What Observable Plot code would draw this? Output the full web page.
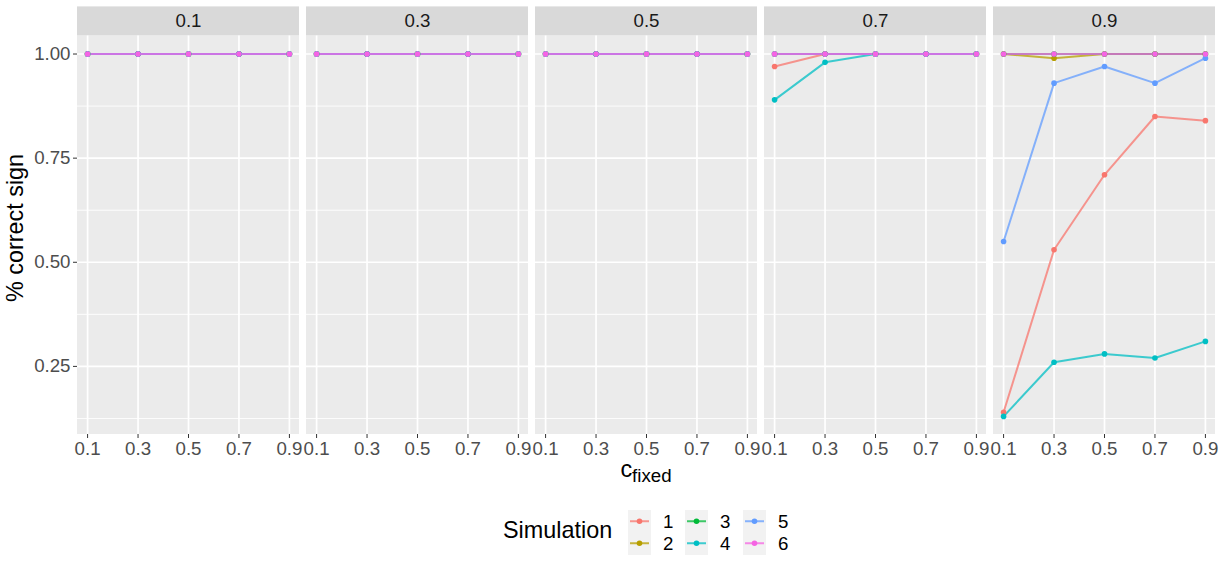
<!DOCTYPE html>
<html>
<head>
<meta charset="utf-8">
<script src="https://cdn.jsdelivr.net/npm/d3@7"></script>
<script src="https://cdn.jsdelivr.net/npm/@observablehq/plot@0.6"></script>
<style>
  body { margin: 0; background: #fff; font-family: "Liberation Sans", Arial, Helvetica, sans-serif; }
  #wrap { position: relative; width: 1221px; height: 561px; overflow: hidden; }
  .lg-title { position: absolute; left: 503px; top: 519px; font-size: 23.4px; color: #000; line-height: 1; }
  .lg-key { position: absolute; width: 23px; height: 22.5px; background: #F2F2F2; }
  .lg-lab { position: absolute; font-size: 18.7px; color: #000; line-height: 1; }
</style>
</head>
<body>
<div id="wrap"></div>
<script>
// ---- data ----
const panels = [0.1, 0.3, 0.5, 0.7, 0.9];          // facet values
const cFixed = [0.1, 0.3, 0.5, 0.7, 0.9];          // x values / tick labels
const sims = ["1", "2", "3", "4", "5", "6"];
const simColors = ["#F8766D", "#B79F00", "#00BA38", "#00BFC4", "#619CFF", "#F564E3"];
const yTicks = [0.25, 0.5, 0.75, 1.0];
const yMinor = [0.125, 0.375, 0.625, 0.875];

// rows = panels, columns = cFixed
const sim1 = [[1,1,1,1,1],[1,1,1,1,1],[1,1,1,1,1],[0.97,1,1,1,1],[0.14,0.53,0.71,0.85,0.84]];
const sim2 = [[1,1,1,1,1],[1,1,1,1,1],[1,1,1,1,1],[1,1,1,1,1],[1,0.99,1,1,1]];
const sim3 = [[1,1,1,1,1],[1,1,1,1,1],[1,1,1,1,1],[1,1,1,1,1],[1,1,1,1,1]];
const sim4 = [[1,1,1,1,1],[1,1,1,1,1],[1,1,1,1,1],[0.89,0.98,1,1,1],[0.13,0.26,0.28,0.27,0.31]];
const sim5 = [[1,1,1,1,1],[1,1,1,1,1],[1,1,1,1,1],[1,1,1,1,1],[0.55,0.93,0.97,0.93,0.99]];
const sim6 = [[1,1,1,1,1],[1,1,1,1,1],[1,1,1,1,1],[1,1,1,1,1],[1,1,1,1,1]];
const simValues = [sim1, sim2, sim3, sim4, sim5, sim6];

const rows = [];
sims.forEach((s, si) => {
  panels.forEach((p, pi) => {
    cFixed.forEach((c, ci) => {
      rows.push({sim: s, panel: p, c: c, v: simValues[si][pi][ci]});
    });
  });
});

// scale extents (ggplot-like 5% expansion)
const xMin = d3.min(cFixed), xMax = d3.max(cFixed);
const xLo = xMin - 0.05 * (xMax - xMin), xHi = xMax + 0.05 * (xMax - xMin);
const vMin = d3.min(rows, d => d.v), vMax = d3.max(rows, d => d.v);
const yLo = vMin - 0.05 * (vMax - vMin), yHi = vMax + 0.05 * (vMax - vMin);
const stripPx = 29, panelPx = 398.6;
const yTop = yHi + (yHi - yLo) * stripPx / panelPx;
const yStripMid = (yHi + yTop) / 2;
const xMid = (xLo + xHi) / 2;

const W = 1221, H = 490;
const font = "'Liberation Sans', Arial, Helvetica, sans-serif";

// one line mark per simulation, drawn in order 1..6 (6 on top)
const lineMarks = sims.map(s => Plot.line(rows.filter(d => d.sim === s), {
  fx: "panel", x: "c", y: "v", stroke: "sim", strokeWidth: 2, strokeOpacity: 0.75
}));

const chart = Plot.plot({
  width: W,
  height: H,
  marginLeft: 77,
  marginRight: 6,
  marginTop: H - 56 - panelPx - stripPx,
  marginBottom: 56,
  style: {fontFamily: font, background: "white", color: "#4D4D4D"},
  fx: {domain: panels, paddingInner: 0.0306, paddingOuter: 0, axis: null, label: null},
  x: {domain: [xLo, xHi], label: null},
  y: {domain: [yLo, yTop], label: null},
  color: {domain: sims, range: simColors},
  marks: [
    Plot.rect([0], {x1: xLo, x2: xHi, y1: yLo, y2: yHi, fill: "#EBEBEB"}),
    Plot.rect([0], {x1: xLo, x2: xHi, y1: yHi, y2: yTop, fill: "#D9D9D9"}),
    Plot.ruleY(yMinor, {stroke: "white", strokeWidth: 0.9}),
    Plot.ruleY(yTicks, {stroke: "white", strokeWidth: 1.7}),
    Plot.ruleX(cFixed, {y1: yLo, y2: yHi, stroke: "white", strokeWidth: 1.7}),
    Plot.text(panels, {fx: d => d, x: xMid, y: yStripMid, text: d => String(d),
      fontSize: 18.7, fill: "#1A1A1A", fontFamily: font}),
    ...lineMarks,
    Plot.dot(rows, {fx: "panel", x: "c", y: "v", fill: "sim", r: 2.8, stroke: null}),
    Plot.axisX(cFixed, {tickSize: 4, tickPadding: 3, fontSize: 18.7, label: null,
      tickFormat: d => String(d), stroke: "#333333", fill: "#4D4D4D"}),
    Plot.axisY(yTicks, {tickSize: 4, tickPadding: 3, fontSize: 18.7, label: null,
      tickFormat: d3.format(".2f"), stroke: "#333333", fill: "#4D4D4D"})
  ]
});

const wrap = document.getElementById("wrap");
wrap.appendChild(chart);

// axis titles
const svg = d3.select(chart.tagName.toLowerCase() === "svg" ? chart : chart.querySelector("svg"));
svg.append("text")
  .attr("transform", "translate(23,228) rotate(-90)")
  .attr("text-anchor", "middle")
  .attr("font-family", font)
  .attr("font-size", 23.4)
  .attr("fill", "#000")
  .text("% correct sign");
const xt = svg.append("text")
  .attr("x", 646).attr("y", 477)
  .attr("text-anchor", "middle")
  .attr("font-family", font)
  .attr("font-size", 23.4)
  .attr("fill", "#000");
xt.append("tspan").text("c");
xt.append("tspan").attr("font-size", 18.7).attr("dy", 5).text("fixed");

// legend (HTML + small svg keys)
const legend = [];
legend.push(`<div class="lg-title">Simulation</div>`);
const colX = [628, 685, 743];
const rowY = [509.5, 532];
sims.forEach((s, i) => {
  const col = Math.floor(i / 2), row = i % 2;
  const x = colX[col], y = rowY[row];
  const c = simColors[i];
  legend.push(`<div class="lg-key" style="left:${x}px;top:${y}px">
    <svg width="23" height="22.5"><line x1="2" x2="21" y1="11.25" y2="11.25" stroke="${c}" stroke-opacity="0.75" stroke-width="2"/><circle cx="11.5" cy="11.25" r="2.8" fill="${c}"/></svg></div>`);
  legend.push(`<div class="lg-lab" style="left:${x + 35}px;top:${y + 3}px">${s}</div>`);
});
const lg = document.createElement("div");
lg.innerHTML = legend.join("");
wrap.appendChild(lg);
</script>
</body>
</html>
